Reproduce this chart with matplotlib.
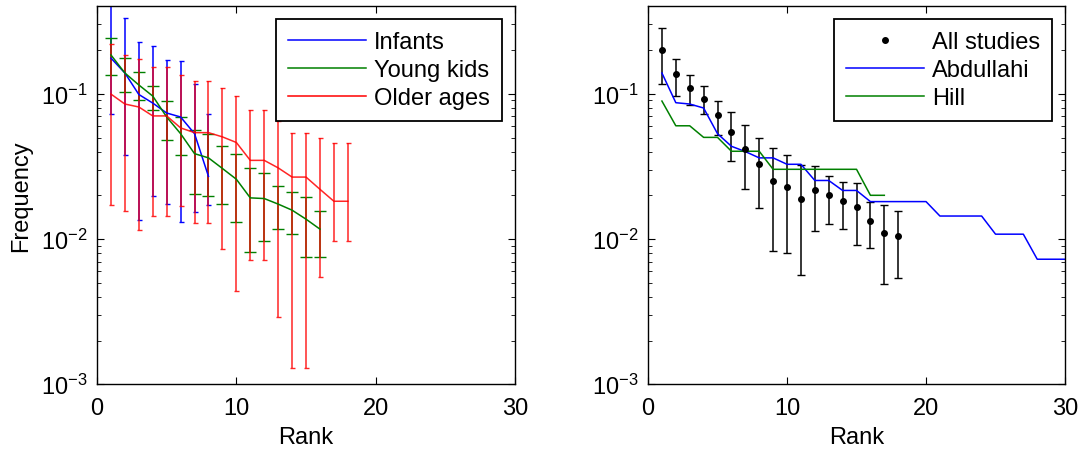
# -*- coding: utf-8 -*-
"""
Rank / frequency plots: age groups (left) and all studies vs. Abdullahi and Hill (right)
"""

import numpy as np
import matplotlib
matplotlib.use("Agg")
import matplotlib.pyplot as plt
from matplotlib.lines import Line2D

plt.rcParams['font.family'] = ['Liberation Sans', 'DejaVu Sans']
plt.rcParams['mathtext.fontset'] = 'custom'
plt.rcParams['mathtext.rm'] = 'Liberation Sans'
plt.rcParams['mathtext.it'] = 'Liberation Sans:italic'
plt.rcParams['font.size'] = 17

# left panel: frequency by rank for the three age groups
infants_rank = np.arange(1, 9)
infants_freq = [0.176, 0.139, 0.0989, 0.0863, 0.0737, 0.0692, 0.0531, 0.0270]
infants_low = [0.0729, 0.0381, 0.0135, 0.0197, 0.0174, 0.01315, 0.0154, 0.0171]
infants_high = [0.6, 0.333, 0.226, 0.213, 0.172, 0.167, 0.116, 0.0720]

kids_rank = np.arange(1, 17)
kids_freq = [0.185, 0.139, 0.115, 0.0964, 0.0692, 0.0531, 0.0387, 0.0362,
             0.0306, 0.0258, 0.0192, 0.0190, 0.0174, 0.0158, 0.0137, 0.0117]
kids_low = [0.134, 0.103, 0.0900, 0.0773, 0.0483, 0.0378, 0.0204, 0.0197,
            0.0173, 0.01315, 0.00811, 0.00968, 0.01177, 0.0108, 0.00757, 0.00752]
kids_high = [0.242, 0.177, 0.141, 0.113, 0.0891, 0.0695, 0.0567, 0.0531,
             0.0440, 0.0387, 0.0307, 0.0284, 0.0230, 0.0210, 0.0196, 0.01556]

older_rank = np.arange(1, 19)
older_freq = [0.0995, 0.085, 0.0811, 0.0704, 0.0704, 0.0582, 0.0540, 0.0540, 0.0505,
              0.0462, 0.0348, 0.0348, 0.0309, 0.0267, 0.0267, 0.0220, 0.0182, 0.0182]
older_low = [0.0171, 0.0157, 0.01153, 0.0144, 0.0144, 0.01695, 0.01283, 0.01283, 0.00859,
             0.00440, 0.00714, 0.00714, 0.00292, 0.00129, 0.00129, 0.00548, 0.00968, 0.00968]
older_high = [0.219, 0.186, 0.174, 0.154, 0.154, 0.134, 0.122, 0.122, 0.109,
              0.0962, 0.0768, 0.0768, 0.0645, 0.0540, 0.0540, 0.0499, 0.0459, 0.0459]

# right panel: all studies with error bars, and two reference studies
all_rank = np.arange(1, 19)
all_freq = [0.200, 0.136, 0.110, 0.0925, 0.071, 0.0542, 0.0415, 0.0331, 0.0252,
            0.0229, 0.0190, 0.0217, 0.0200, 0.0182, 0.0167, 0.0133, 0.0110, 0.0105]
all_low = [0.117, 0.0973, 0.0841, 0.0726, 0.0518, 0.0347, 0.0222, 0.0164, 0.00824,
           0.00798, 0.00563, 0.01135, 0.01277, 0.01177, 0.00906, 0.00863, 0.00489, 0.00537]
all_high = [0.282, 0.174, 0.135, 0.113, 0.0891, 0.0745, 0.0605, 0.0497, 0.0420,
            0.0381, 0.0322, 0.0319, 0.0271, 0.0246, 0.0245, 0.0180, 0.0171, 0.0157]

abdullahi_rank = np.arange(1, 31)
abdullahi_freq = [0.139, 0.0868, 0.085, 0.0798, 0.0531, 0.0435, 0.040, 0.0362, 0.0362, 0.0327,
                  0.0327, 0.0253, 0.0253, 0.0216, 0.0216, 0.0181, 0.0181, 0.0181, 0.0181, 0.0181,
                  0.0144, 0.0144, 0.0144, 0.0144, 0.0108, 0.0108, 0.0108, 0.00726, 0.00726, 0.00726]

hill_rank = np.arange(1, 18)
hill_freq = [0.0891, 0.0602, 0.0602, 0.0501, 0.0501, 0.0402, 0.0402, 0.0402, 0.0302,
             0.0302, 0.0302, 0.0302, 0.0302, 0.0302, 0.0302, 0.0200, 0.0200]

BLUE = (0, 0, 1)
GREEN = (0, 0.5, 0)
RED = (1, 0, 0)


def err(freq, low, high):
    freq = np.asarray(freq)
    return [freq - np.asarray(low), np.asarray(high) - freq]


def style_axes(ax):
    ax.set_yscale('log')
    ax.set_xlim(0, 30)
    ax.set_ylim(1e-3, 0.4)
    ax.set_xticks([0, 10, 20, 30])
    ax.tick_params(which='both', direction='in', top=True, right=True)
    ax.tick_params(which='major', length=5, width=0.8, pad=7)
    ax.tick_params(axis='x', which='major', pad=9)
    ax.tick_params(which='minor', length=3, width=0.6)
    for s in ax.spines.values():
        s.set_linewidth(1.0)
    ax.set_xlabel("Rank", labelpad=5)


fig = plt.figure(figsize=(10.84, 4.52), dpi=100)
ax1 = fig.add_axes([0.0895, 0.1476, 0.3856, 0.8362])
ax2 = fig.add_axes([0.5978, 0.1476, 0.3847, 0.8362])

ax1.errorbar(infants_rank, infants_freq, yerr=err(infants_freq, infants_low, infants_high),
             color=BLUE, lw=1.1, elinewidth=1.1, capsize=1.8, label="Infants")
ax1.errorbar(kids_rank, kids_freq, yerr=err(kids_freq, kids_low, kids_high),
             color=GREEN, lw=1.1, elinewidth=1.1, capsize=4.3, label="Young kids")
ax1.errorbar(older_rank, older_freq, yerr=err(older_freq, older_low, older_high),
             color=RED, lw=1.1, elinewidth=1.1, capsize=1.8, alpha=0.85, label="Older ages")
style_axes(ax1)
ax1.set_ylabel("Frequency", labelpad=6)

legend_kw = dict(loc='upper right', fancybox=False, framealpha=1, edgecolor='black',
                 handlelength=3.3, handletextpad=0.35, labelspacing=0.25,
                 borderaxespad=0.55, borderpad=0.5)

h1 = [Line2D([], [], color=BLUE, lw=1.1), Line2D([], [], color=GREEN, lw=1.1),
      Line2D([], [], color=RED, lw=1.1)]
leg1 = ax1.legend(h1, ["Infants", "Young kids", "Older ages"], **legend_kw)
leg1.get_frame().set_linewidth(1.3)

ax2.errorbar(all_rank, all_freq, yerr=err(all_freq, all_low, all_high),
             fmt='o', color='black', ms=4, elinewidth=1.1, capsize=3.2)
ax2.plot(abdullahi_rank, abdullahi_freq, color=BLUE, lw=1.1)
ax2.plot(hill_rank, hill_freq, color=GREEN, lw=1.1)
style_axes(ax2)

h2 = [Line2D([], [], color='black', marker='o', ms=4, ls='none'),
      Line2D([], [], color=BLUE, lw=1.1), Line2D([], [], color=GREEN, lw=1.1)]
leg2 = ax2.legend(h2, ["All studies", "Abdullahi", "Hill"], **legend_kw)
leg2.get_frame().set_linewidth(1.3)

fig.savefig("out.png", dpi=100)
